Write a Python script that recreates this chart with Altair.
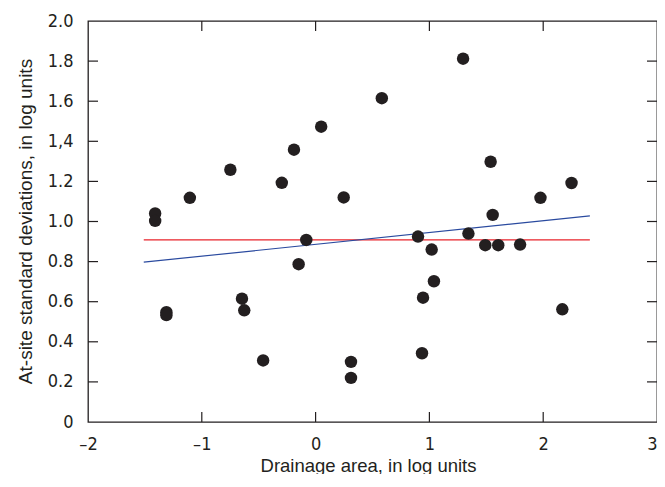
import altair as alt
import pandas as pd

# Scatter data (drainage area vs at-site standard deviation), log units
area = [-1.41, -1.41, -1.105, -0.749, -0.297, -0.19, 0.049, 0.247, 0.582, -0.082,
        1.296, 1.538, 2.249, 1.976, 1.556, 1.343, 0.90, 1.02, 1.491, 1.605,
        1.797, 1.04, 0.944, 2.168, 0.935, 0.311, 0.311, -1.311, -1.311, -0.647,
        -0.627, -0.461, -0.149]
stdev = [1.04, 1.003, 1.118, 1.258, 1.193, 1.358, 1.473, 1.12, 1.615, 0.908,
         1.812, 1.298, 1.192, 1.118, 1.033, 0.94, 0.925, 0.86, 0.882, 0.882,
         0.885, 0.702, 0.62, 0.562, 0.343, 0.30, 0.22, 0.548, 0.533, 0.615,
         0.557, 0.307, 0.787]

# Red (mean) line and blue (regression) line end points
red_x = [-1.51, 2.41]
red_y = [0.908, 0.908]
blue_x = [-1.51, 2.41]
blue_y = [0.797, 1.028]

x_ticks = [-2, -1, 0, 1, 2, 3]
x_tick_labels = ["\u20132", "\u20131", "0", "1", "2", "3"]
y_ticks = [0, 0.2, 0.4, 0.6, 0.8, 1.0, 1.2, 1.4, 1.6, 1.8, 2.0]
y_tick_labels = ["0", "0.2", "0.4", "0.6", "0.8", "1.0", "1.2", "1,4", "1.6", "1.8", "2.0"]
x_inner_ticks = [-1, 0, 1, 2]
y_inner_ticks = [0.2, 0.4, 0.6, 0.8, 1.0, 1.2, 1.4, 1.6, 1.8]

LABEL_FONT = "Liberation Sans Narrow, DejaVu Sans Condensed, sans-serif"
TITLE_FONT = "Liberation Sans, Arial, sans-serif"
W, H = 569, 401
INK = "#231f20"

pts = pd.DataFrame({"x": area, "y": stdev})
lines = pd.DataFrame({
    "x": red_x + blue_x,
    "y": red_y + blue_y,
    "s": ["red", "red", "blue", "blue"],
})

xlab = "[" + ",".join("'%s'" % s for s in x_tick_labels) + "][round(datum.value) + 2]"
ylab = "[" + ",".join("'%s'" % s for s in y_tick_labels) + "][round(datum.value * 5)]"

xscale = alt.Scale(domain=[-2, 3], nice=False, zero=False)
yscale = alt.Scale(domain=[0, 2], nice=False, zero=False)

xaxis = alt.Axis(values=x_ticks, labelExpr=xlab, ticks=False, tickSize=0, domain=False,
                 grid=False, labelFont=LABEL_FONT, labelFontSize=18, labelColor=INK,
                 labelPadding=13, labelFlush=False, labelBaseline="top", labelOverlap=False,
                 labelAlign={"condition": {"test": "datum.value >= 3", "value": "right"},
                             "value": "center"},
                 title="Drainage area, in log units", titleFont=TITLE_FONT, titleFontSize=18.5,
                 titleFontWeight="normal", titleColor=INK, titleX=280, titleY=43,
                 titleBaseline="middle", titleAlign="center")
yaxis = alt.Axis(values=y_ticks, labelExpr=ylab, ticks=False, tickSize=0, domain=False,
                 grid=False, labelFont=LABEL_FONT, labelFontSize=18, labelColor=INK,
                 labelPadding=15, labelFlush=False, labelBaseline="middle", labelOverlap=False,
                 title="At-site standard deviations, in log units", titleFont=TITLE_FONT,
                 titleFontSize=19, titleFontWeight="normal", titleColor=INK,
                 titleX=-63, titleY=200, titleAngle=-90, titleBaseline="middle",
                 titleAlign="center")

base_lines = alt.Chart(lines).mark_line(strokeWidth=1.2, clip=True).encode(
    x=alt.X("x:Q", scale=xscale, axis=xaxis),
    y=alt.Y("y:Q", scale=yscale, axis=yaxis),
    color=alt.Color("s:N", scale=alt.Scale(domain=["red", "blue"], range=["#e8232b", "#2a4a9f"]),
                    legend=None),
    detail="s:N",
)

points = alt.Chart(pts).mark_circle(size=155, color=INK, opacity=1).encode(
    x=alt.X("x:Q", scale=xscale),
    y=alt.Y("y:Q", scale=yscale),
)

xt = pd.DataFrame({"x": x_inner_ticks})
yt = pd.DataFrame({"y": y_inner_ticks})
tick_style = dict(color=INK, strokeWidth=1.2)

bottom_ticks = alt.Chart(xt).mark_rule(**tick_style).encode(
    x=alt.X("x:Q", scale=xscale), y=alt.value(H), y2=alt.value(H - 10))
top_ticks = alt.Chart(xt).mark_rule(**tick_style).encode(
    x=alt.X("x:Q", scale=xscale), y=alt.value(0), y2=alt.value(10))
left_ticks = alt.Chart(yt).mark_rule(**tick_style).encode(
    y=alt.Y("y:Q", scale=yscale), x=alt.value(0), x2=alt.value(10))
right_ticks = alt.Chart(yt).mark_rule(**tick_style).encode(
    y=alt.Y("y:Q", scale=yscale), x=alt.value(W), x2=alt.value(W - 10))

chart = alt.layer(base_lines, points, bottom_ticks, top_ticks, left_ticks, right_ticks).properties(
    width=W, height=H,
    autosize=alt.AutoSizeParams(type="none"),
    padding={"left": 80, "top": 13, "right": 0, "bottom": 52},
    background="white",
).configure_view(stroke=INK, strokeWidth=1.3)

chart.save("out.html", embed_options={"renderer": "svg", "actions": False})
